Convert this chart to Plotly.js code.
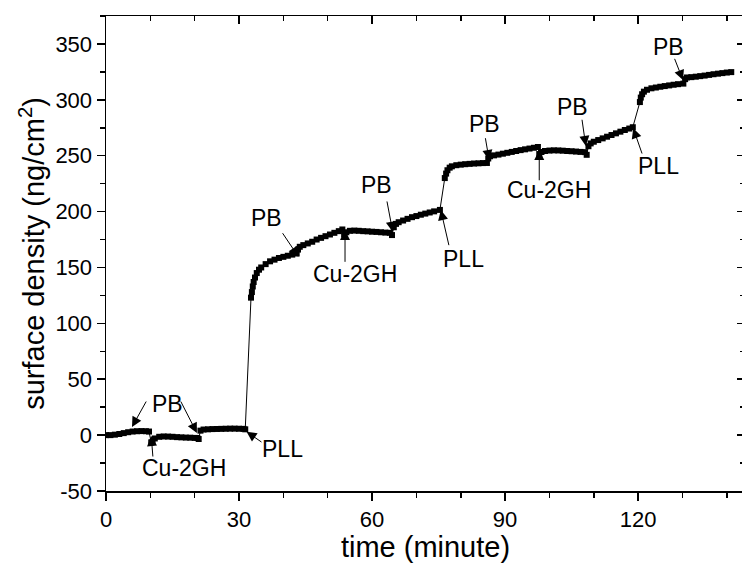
<!DOCTYPE html>
<html>
<head>
<meta charset="utf-8">
<script src="https://cdn.plot.ly/plotly-3.0.1.min.js"></script>
<style>html,body{margin:0;padding:0;overflow:hidden;background:#fff;}</style>
</head>
<body>
<div id="chart"></div>
<script>
// time (minute)
var time = [0,1,2,3,4,5,6,7,8,9,9.7,10.2,10.5,11,12,13,14,15,16,17,18,19,20,20.6,20.9,21.3,22,23,24,25,26,27,28,29,30,31,31.4,
  32.7,32.9,33.1,33.3,33.6,34,34.5,35,36,37,38,39,40,41,42,43,43.3,43.7,44.5,45.5,46.5,47.5,48.5,49.5,50.5,51.5,52.5,53.3,
  53.7,54.2,55,56,57,58,59,60,61,62,63,64,64.5,64.9,65.4,66,67,68,69,70,71,72,73,74,75.3,
  76.4,76.7,77,77.5,78,79,80,81,82,83,84,85,85.9,86.2,86.6,87.5,88.5,89.5,90.5,91.5,92.5,93.5,94.5,95.5,96.5,97.4,
  97.7,98.2,99,100,101,102,103,104,105,106,107,108,108.4,108.8,109.3,110,111,112,113,114,115,116,117,118,118.8,
  120.4,120.6,120.9,121.3,122,123,124,125,126,127,128,129,130.2,130.6,131,132,133,134,135,136,137,138,139,140,141];
// surface density (ng/cm2)
var density = [0,0,0.4,1,1.8,2.6,3.2,3.5,3.6,3.5,3.2,-6.5,-6,-3,-1.5,-1.2,-1.3,-1.5,-1.8,-2,-2.2,-2.3,-2.5,-2.6,-3.5,4,5,5.2,5.4,5.5,5.6,5.7,5.8,5.8,5.7,5.6,5.2,
  123,128,133,137,141,145,148,150,153,155.5,157,158.5,159.5,160.5,161.5,162.5,166,168.5,170,171.5,173,175,176.5,178,179.5,181,182.5,184,
  179.5,181.5,182.8,183,182.8,182.5,182.3,182,181.8,181.5,181.2,181,179,186,189,190.5,192,193.5,195,196,197.2,198.2,199.2,200.2,201.5,
  230,234,237,239.3,240.5,241.5,242,242.4,242.7,243,243.2,243.4,243.5,247.5,249.5,250.3,251,251.8,252.6,253.4,254.2,255,255.7,256.4,257.1,257.8,
  251.5,253.3,254.2,254.6,254.8,254.7,254.5,254.2,254,253.7,253.4,253.2,250.8,258.5,261,262.5,264,265.5,267,268.5,270,271.5,273,274.3,275.5,
  298,302,305,307.3,309,310.3,311,311.7,312.3,312.9,313.5,314,314.5,318.5,320,320.3,320.7,321.2,321.7,322.3,322.9,323.4,323.9,324.4,324.8];

// axis tick labels
var xTickVals = [0,30,60,90,120];
var xTickText = ["0","30","60","90","120"];
var yTickVals = [-50,0,50,100,150,200,250,300,350];
var yTickText = ["-50","0","50","100","150","200","250","300","350"];

// event labels: text, label position, arrow tail, arrow tip (data units)
var labelText = ["PB","Cu-2GH","PLL","PB","Cu-2GH","PB","PLL","PB","Cu-2GH","PB","PLL","PB"];
var labelX = [13.8,17.5,39.9,36.3,56.2,61.1,80.6,85.3,99.9,105.1,124.6,126.8];
var labelY = [27.5,-29,-12.5,194.5,144,223.5,157.5,278.5,219,293.5,240.5,347];
var arrows = [
  // [tailX, tailY, tipX, tipY]
  [9.25,31.4,5.86,7.3],
  [16.7,31.4,20.5,1.9],
  [10.6,-20.5,10.2,-0.8],
  [35.4,-7.1,31.7,3.0],
  [39.6,182,43.4,159.6],
  [53.9,153.7,53.9,183.5],
  [63.3,210.4,64.66,182],
  [77.4,168.6,75.5,201.4],
  [85.5,267,86.4,246.2],
  [97.7,226.7,97.7,255.1],
  [107.3,283.5,108.2,258.7],
  [121.0,250.6,118.9,274.5],
  [128.1,338,130.1,317.7]
];

var FONT = "Liberation Sans, Arial, sans-serif";
var annotations = [];
for (var i = 0; i < labelText.length; i++) {
  annotations.push({x: labelX[i], y: labelY[i], xref: 'x', yref: 'y', text: labelText[i],
    showarrow: false, font: {family: FONT, size: 23, color: '#000'}});
}
arrows.forEach(function (a) {
  annotations.push({x: a[2], y: a[3], ax: a[0], ay: a[1], xref: 'x', yref: 'y', axref: 'x', ayref: 'y',
    text: '', showarrow: true, arrowhead: 2, arrowsize: 2, arrowwidth: 1, arrowcolor: '#000',
    standoff: 0, startstandoff: 0});
});

var xr = [0, 144.1], yr = [-50, 375];
var data = [
  {x: time, y: density, type: 'scatter', mode: 'lines+markers',
   line: {color: '#000', width: 1}, marker: {symbol: 'square', size: 6, color: '#000'},
   hoverinfo: 'skip', showlegend: false},
  {x: [], y: [], xaxis: 'x2', yaxis: 'y2', type: 'scatter', mode: 'markers', showlegend: false, hoverinfo: 'skip'}
];

var layout = {
  width: 745, height: 563,
  margin: {l: 106, r: 0, t: 16, b: 72},
  paper_bgcolor: '#fff', plot_bgcolor: '#fff',
  font: {family: FONT, size: 22, color: '#000'},
  showlegend: false,
  xaxis: {range: xr, showgrid: false, zeroline: false, showline: true, linecolor: '#000', linewidth: 1.5,
    ticks: 'outside', ticklen: 8, tickwidth: 1.5, tickcolor: '#000',
    tickmode: 'array', tickvals: xTickVals, ticktext: xTickText,
    minor: {tickmode: 'linear', tick0: 0, dtick: 10, ticks: 'outside', ticklen: 5, tickwidth: 1.5, tickcolor: '#000', showgrid: false},
    tickfont: {family: FONT, size: 22, color: '#000'},
    title: {text: 'time (minute)', font: {family: FONT, size: 29, color: '#000'}, standoff: 4}},
  yaxis: {range: yr, showgrid: false, zeroline: false, showline: true, linecolor: '#000', linewidth: 1.5,
    ticks: 'outside', ticklen: 8, tickwidth: 1.5, tickcolor: '#000',
    tickmode: 'array', tickvals: yTickVals, ticktext: yTickText,
    minor: {tickmode: 'linear', tick0: 0, dtick: 25, ticks: 'outside', ticklen: 5, tickwidth: 1.5, tickcolor: '#000', showgrid: false},
    tickfont: {family: FONT, size: 22, color: '#000'},
    title: {text: 'surface density (ng/cm<sup>2</sup>)', font: {family: FONT, size: 29, color: '#000'}, standoff: 2}},
  xaxis2: {range: xr, overlaying: 'x', side: 'top', anchor: 'y2', showgrid: false, zeroline: false,
    showline: true, linecolor: '#000', linewidth: 1.5, showticklabels: false,
    ticks: 'inside', ticklen: 8, tickwidth: 1.5, tickcolor: '#000', tick0: 0, dtick: 30,
    minor: {dtick: 10, ticks: 'inside', ticklen: 5, tickwidth: 1.5, tickcolor: '#000', showgrid: false}},
  yaxis2: {range: yr, overlaying: 'y', side: 'right', anchor: 'x2', showgrid: false, zeroline: false,
    showline: true, linecolor: '#000', linewidth: 1.5, showticklabels: false,
    ticks: 'inside', ticklen: 8, tickwidth: 1.5, tickcolor: '#000', tick0: 0, dtick: 50,
    minor: {dtick: 25, ticks: 'inside', ticklen: 5, tickwidth: 1.5, tickcolor: '#000', showgrid: false}},
  annotations: annotations
};

Plotly.newPlot('chart', data, layout, {staticPlot: true, displayModeBar: false});
</script>
</body>
</html>
